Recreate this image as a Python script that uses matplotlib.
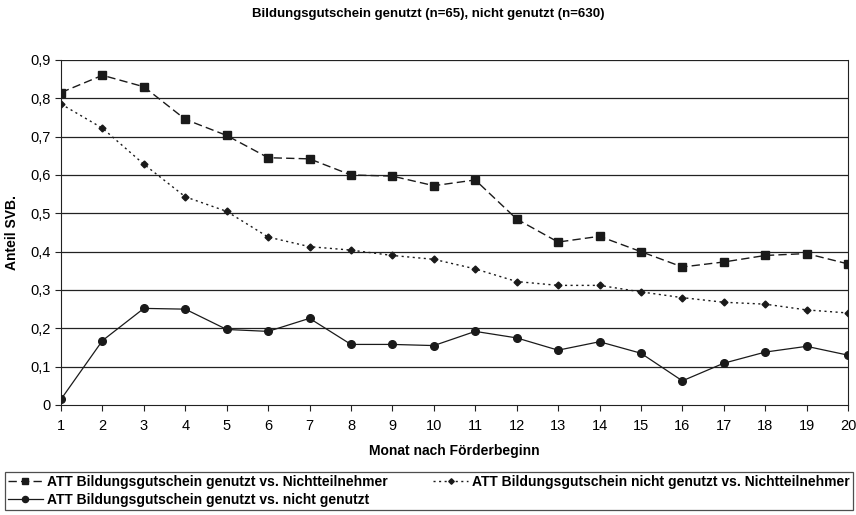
import matplotlib
matplotlib.use("Agg")
import matplotlib.pyplot as plt
from matplotlib.ticker import FuncFormatter

plt.rcParams['font.family'] = ['Liberation Sans', 'DejaVu Sans']

monate = list(range(1, 21))
genutzt_vs_nicht_teil = [0.815, 0.86, 0.83, 0.745, 0.703, 0.645, 0.642, 0.60, 0.597, 0.572,
                         0.587, 0.485, 0.425, 0.44, 0.40, 0.36, 0.373, 0.39, 0.395, 0.368]
nicht_genutzt_vs_nicht_teil = [0.785, 0.722, 0.628, 0.543, 0.505, 0.438, 0.413, 0.404, 0.39, 0.38,
                               0.355, 0.322, 0.312, 0.312, 0.295, 0.28, 0.268, 0.263, 0.248, 0.24]
genutzt_vs_nicht_genutzt = [0.015, 0.168, 0.252, 0.25, 0.197, 0.192, 0.226, 0.158, 0.158, 0.155,
                            0.192, 0.175, 0.143, 0.165, 0.135, 0.063, 0.109, 0.138, 0.153, 0.13]
y_ticks = [0, 0.1, 0.2, 0.3, 0.4, 0.5, 0.6, 0.7, 0.8, 0.9]

fig = plt.figure(figsize=(8.56, 5.15), dpi=100)
ax = fig.add_axes([0.0713, 0.2136, 0.9194, 0.67])

for y in y_ticks[1:]:
    ax.axhline(y, color='#222222', linewidth=0.9, zorder=1)

l1, = ax.plot(monate, genutzt_vs_nicht_teil, color='#1a1a1a', linestyle=(0, (6, 3)), linewidth=1,
              marker='s', markersize=5.5, label='ATT Bildungsgutschein genutzt vs. Nichtteilnehmer', zorder=3)
l2, = ax.plot(monate, nicht_genutzt_vs_nicht_teil, color='#1a1a1a', linestyle=(0, (1.5, 2.5)), linewidth=1,
              marker='D', markersize=3.5, label='ATT Bildungsgutschein nicht genutzt vs. Nichtteilnehmer', zorder=3)
l3, = ax.plot(monate, genutzt_vs_nicht_genutzt, color='#1a1a1a', linestyle='-', linewidth=0.9,
              marker='o', markersize=5.5, label='ATT Bildungsgutschein genutzt vs. nicht genutzt', zorder=3)

ax.set_xlim(1, 20)
ax.set_ylim(0, 0.9)
ax.set_xticks(monate)
ax.set_yticks(y_ticks)
ax.yaxis.set_major_formatter(FuncFormatter(lambda v, p: '0' if v == 0 else f'{v:.1f}'.replace('.', ',')))
ax.tick_params(axis='both', labelsize=10.5, direction='out', length=4, color='#222222')
ax.tick_params(axis='x', pad=6)
for s in ['left', 'bottom', 'right']:
    ax.spines[s].set_color('#222222')
ax.spines['top'].set_visible(False)

ax.set_xlabel('Monat nach Förderbeginn', fontsize=10, fontweight='bold', labelpad=8)
ax.set_ylabel('Anteil SVB.', fontsize=10, fontweight='bold', labelpad=8)
fig.suptitle('Bildungsgutschein genutzt (n=65), nicht genutzt (n=630)', fontsize=9.5, fontweight='bold', y=0.985)

leg = fig.legend(handles=[l1, l3, l2], loc='lower left', bbox_to_anchor=(0.006, 0.01, 0.99, 0.08),
                 mode='expand', ncol=2, fontsize=10, frameon=True, fancybox=False, edgecolor='#222222',
                 handlelength=2.5, handletextpad=0.3, borderaxespad=0, labelspacing=0.3, borderpad=0.2,
                 markerscale=0.8)
for t in leg.get_texts():
    t.set_fontweight('bold')
leg.get_frame().set_linewidth(0.9)

fig.savefig('out.png', dpi=100)
